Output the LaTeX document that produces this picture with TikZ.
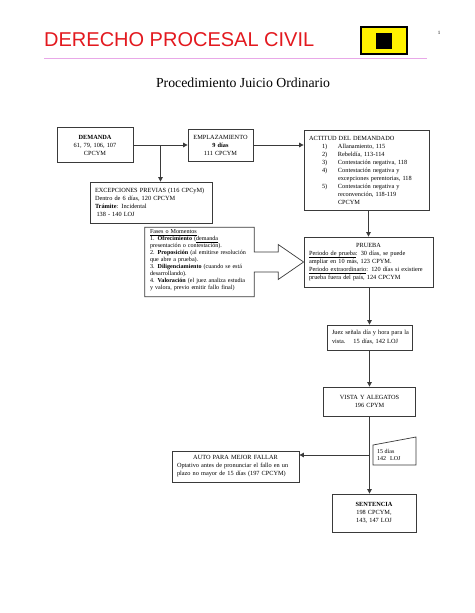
\documentclass[tikz,border=0pt]{standalone}
\usepackage{fontspec}
\setmainfont{Liberation Serif}
\newfontfamily\arialfont{Liberation Sans}
\usepackage{tikz}
\usetikzlibrary{arrows.meta,calc}
\definecolor{ink}{HTML}{3A3A3A}
\definecolor{titlered}{HTML}{E3191F}
\definecolor{rulepink}{HTML}{E8A8E8}
\newcommand{\boxfont}{\fontsize{6.3}{8}\selectfont}
\newcommand{\tinyfont}{\fontsize{6.1}{7}\selectfont}
\newcommand{\ulbase}[1]{\underline{\smash{#1}}}

\begin{document}
\begin{tikzpicture}[x=1pt, y=-1pt, every node/.style={font=\boxfont},
      box/.style={draw=ink, line width=0.8pt, fill=white, inner xsep=5pt, inner ysep=2pt, align=left},
      cbox/.style={box, align=center},
      link/.style={draw=ink, line width=0.8pt},
      >={Triangle[length=4.5pt,width=4.5pt]}]
    \fill[white] (0,0) rectangle (474,613);
    \useasboundingbox (0,0) rectangle (474,613);
    \node[font=\arialfont\fontsize{20}{24}\selectfont, text=titlered, anchor=west, inner sep=0] (title) at (44,39.5) {DERECHO PROCESAL CIVIL};
    \draw[rulepink, line width=0.8pt] (44,58) -- (427,58);
    \node[draw=black, line width=1.2pt, fill=yellow, minimum width=46pt, minimum height=27pt, inner sep=0] (flag) at (384,40.5) {};
    \node[fill=black, minimum size=16pt, inner sep=0] (flagmark) at (flag.center) {};
    \node[font=\fontsize{5}{6}\selectfont, inner sep=0] (pageno) at (439,33) {1};
    \node[font=\fontsize{13.8}{16}\selectfont] (subtitle) at (243,83) {Procedimiento Juicio Ordinario};

    \node[cbox, text width=66pt, minimum height=35pt] (demanda) at (95,145) {\textbf{DEMANDA}\\61, 79, 106, 107\\CPCYM};
    \node[cbox, text width=55pt, minimum height=32pt] (emplaz) at (220.5,145) {EMPLAZAMIENTO\\\textbf{9 días}\\111 CPCYM};
    \node[box, text width=115pt, minimum height=80pt] (actitud) at (366.5,170) {ACTITUD DEL DEMANDADO\\
      \hspace*{13pt}\makebox[16pt][l]{1)}Allanamiento, 115\\
      \hspace*{13pt}\makebox[16pt][l]{2)}Rebeldía, 113-114\\
      \hspace*{13pt}\makebox[16pt][l]{3)}Contestación negativa, 118\\
      \hspace*{13pt}\makebox[16pt][l]{4)}Contestación negativa y\\
      \hspace*{29pt}\mbox{excepciones perentorias, 118}\\
      \hspace*{13pt}\makebox[16pt][l]{5)}Contestación negativa y\\
      \hspace*{29pt}reconvención, 118-119\\
      \hspace*{29pt}CPCYM};
    \node[box, text width=112pt, minimum height=41pt] (excep) at (151,202.5) {\mbox{EXCEPCIONES PREVIAS (116 CPCyM)}\\Dentro de 6 días, 120 CPCYM\\\textbf{Trámite}: Incidental\\\hspace*{1.5pt}138 - 140 LOJ};
    \node[box, text width=119pt, minimum height=50pt] (prueba) at (368.5,262) {\makebox[\linewidth]{PRUEBA}\\\mbox{\ulbase{Periodo de prueba}: 30 días, se puede}\\ampliar en 10 más, 123 CPYM.\\\mbox{\ulbase{Periodo extraordinario}: 120 días si existiere}\\prueba fuera del país, 124 CPCYM};
    \node[align=left, font=\tinyfont, text width=99pt, minimum height=69pt, inner xsep=5pt, inner ysep=2pt] (fases) at (199.5,262) {\ulbase{Fases o Momentos}\\1. \textbf{Ofrecimiento} (\ulbase{demanda}\\presentación o contestación).\\\mbox{2. \textbf{Proposición} (al emitirse resolución}\\que abre a prueba).\\3. \textbf{Diligenciamiento} (cuando se está\\desarrollando).\\\mbox{4. \textbf{Valoración} (el juez analiza estudia}\\y valora, previo emitir fallo final)};
    \node[box, font=\fontsize{6.3}{9}\selectfont, text width=75pt, minimum height=25pt] (juez) at (369.5,337.5) {\mbox{Juez señala día y hora para la}\\vista.\hspace{8pt}15 días, 142 LOJ};
    \node[cbox, text width=82pt, minimum height=29pt] (vista) at (369.5,401.5) {VISTA Y ALEGATOS\\196 CPYM};
    \node[box, text width=117pt, minimum height=31pt] (auto) at (235.5,466.5) {\makebox[\linewidth]{AUTO PARA MEJOR FALLAR}\\\mbox{Optativo antes de pronunciar el fallo en un}\\plazo no mayor de 15 días (197 CPCYM)};
    \node[cbox, text width=74pt, minimum height=38pt] (sentencia) at (374,513) {\textbf{SENTENCIA}\\198 CPCYM,\\143, 147 LOJ};
    \node[align=left, font=\fontsize{6}{7.5}\selectfont, anchor=west, inner sep=0] (plazo) at (377,455) {15 días\\142\hspace{4pt}LOJ};

    \draw[ink, line width=0.7pt] (fases.north west) -- (fases.north east) -- ($(fases.east)+(0,-10)$) -- ++(24,0) -- ++(0,-7.5)
      -- (prueba.west) -- ($(fases.east)+(24,17.5)$) -- ++(0,-7.5) -- ($(fases.east)+(0,10)$) -- (fases.south east) -- (fases.south west) -- cycle;
    \draw[ink, line width=0.7pt] (373,445) -- (416,437) -- (416,465) -- (373,465) -- cycle;

    \coordinate (fork) at ($(demanda.east)!0.5!(emplaz.west)$);
    \coordinate (split) at ($(vista.south)!0.5!(sentencia.north -| vista.south)$);
    \draw[link, ->] (demanda) -- (emplaz); \draw[link, ->] (fork) -- (fork |- excep.north);
    \draw[link, ->] (emplaz) -- (emplaz.east -| actitud.west); \draw[link, ->] (actitud.south -| prueba.north) -- (prueba.north);
    \draw[link, ->] (prueba.south -| juez.north) -- (juez.north); \draw[link, ->] (juez) -- (vista);
    \draw[link, ->] (vista.south) -- (vista.south |- sentencia.north); \draw[link, ->] (split) -- (split -| auto.east);
  \end{tikzpicture}
\end{document}
